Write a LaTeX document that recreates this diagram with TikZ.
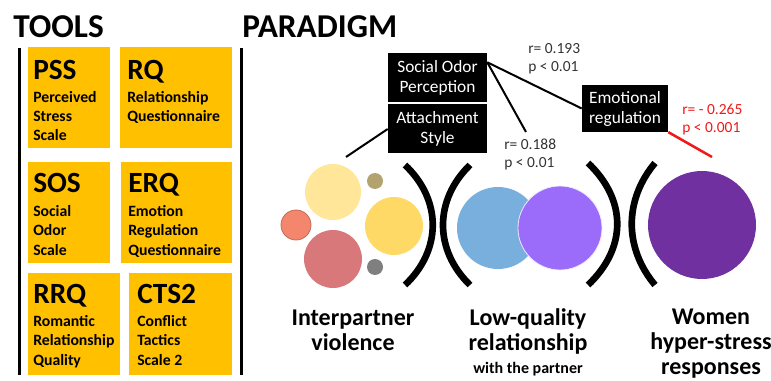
\documentclass[tikz,border=0pt]{standalone}
\usepackage{fontspec}
\setmainfont{Carlito}
\definecolor{toolorange}{HTML}{FFC000}
\definecolor{paleyellow}{HTML}{FFE699}
\definecolor{olive}{HTML}{B3A36F}
\definecolor{salmon}{HTML}{F4866D}
\definecolor{sunyellow}{HTML}{FFD966}
\definecolor{rose}{HTML}{D9787A}
\definecolor{greydot}{HTML}{7F7F7F}
\definecolor{skyblue}{HTML}{78AFDC}
\definecolor{lilac}{HTML}{9B6BFA}
\definecolor{deeppurple}{HTML}{7030A0}
\definecolor{statred}{HTML}{F01818}
\begin{document}
\begin{tikzpicture}[x=0.75pt,y=0.75pt,yscale=-1,xscale=1,
  head/.style={font=\fontsize{25}{29}\selectfont\bfseries, inner sep=0, anchor=base west},
  abbr/.style={font=\fontsize{22}{26}\selectfont\bfseries, inner sep=0, anchor=base west},
  desc/.style={font=\fontsize{11.8}{14.3}\selectfont\bfseries, inner sep=0, anchor=base west, align=left},
  blackbox/.style={fill=black, text=white, font=\fontsize{13}{15}\selectfont, align=center, inner sep=0, minimum height=36.75pt},
  stat/.style={font=\fontsize{11.6}{13.5}\selectfont, text=black!80, align=left, inner sep=0, anchor=base west},
  outcome/.style={font=\fontsize{18}{18.75}\selectfont\bfseries, align=center, inner sep=0, anchor=base},
  link/.style={line width=1.5pt},
  paren/.style={line width=5pt},
  rule/.style={line width=2.25pt}
]
\useasboundingbox (0,0) rectangle (771,381);

% tools
\draw (13,38) node (tools) [head] {TOOLS};
\draw [rule] (19,48) -- (19,375);
\fill [toolorange] (28,47) rectangle (110,148);
\fill [toolorange] (120,47) rectangle (232,148);
\fill [toolorange] (28,162) rectangle (110,263);
\fill [toolorange] (121,162) rectangle (232,263);
\fill [toolorange] (28,273) rectangle (120,375);
\fill [toolorange] (129,273) rectangle (232,375);

% (multi-line nodes sit on their last baseline)
\draw (33,80) node (pss) [abbr] {PSS};
\draw (33,141) node (pssd) [desc] {Perceived\\Stress\\Scale};
\draw (127,80) node (rq) [abbr] {RQ};
\draw (127,122) node (rqd) [desc] {Relationship\\Questionnaire};
\draw (33,193) node (sos) [abbr] {SOS};
\draw (33,255) node (sosd) [desc] {Social\\Odor\\Scale};
\draw (128,193) node (erq) [abbr] {ERQ};
\draw (128,255) node (erqd) [desc] {Emotion\\Regulation\\Questionnaire};
\draw (33,303) node (rrq) [abbr] {RRQ};
\draw (33,365) node (rrqd) [desc] {Romantic\\Relationship\\Quality};
\draw (137,303) node (cts) [abbr] {CTS2};
\draw (137,365) node (ctsd) [desc] {Conflict\\Tactics\\Scale 2};

% paradigm
\draw (242,38) node (paradigm) [head] {PARADIGM};
\draw [rule] (241,48) -- (241,375);

\draw (437.5,77.5) node (soc) [blackbox, minimum width=74.25pt] {Social Odor\\Perception};
\draw (437.5,129) node (att) [blackbox, minimum width=74.25pt] {Attachment\\Style};
\draw (625,108.5) node (emo) [blackbox, minimum width=64.5pt, minimum height=35pt] {Emotional\\regulation};

\coordinate (attend) at (346,157);
\coordinate (lowend) at (526,132);
\coordinate (womend) at (712,157);
\draw [link] (att.west) -- (attend);
\draw [link] (soc.17) -- (lowend);
\draw [link] (soc.17) -- (emo.west);
\draw [line width=1.9pt, statred] (emo.south east) -- (womend);

\draw (528,72) node (r1) [stat] {r= 0.193\\p < 0.01};
\draw (504,168) node (r2) [stat] {r= 0.188\\p < 0.01};
\draw (682,133) node (r3) [stat, text=statred] {r= - 0.265\\p < 0.001};

% interpartner violence
\fill [paleyellow] (333,192) circle [radius=28];
\fill [olive] (375,181) circle [radius=8];
\filldraw [fill=salmon, draw=salmon!80!black, line width=0.6pt] (296,225) circle [radius=15];
\fill [sunyellow] (394,226) circle [radius=29];
\fill [rose] (333,259) circle [radius=29];
\fill [greydot] (375,267) circle [radius=8];

% low-quality relationship
\fill [skyblue] (498,228) circle [radius=41];
\filldraw [fill=lilac, draw=white!85!lilac, line width=0.6pt] (560,228) circle [radius=42];

% women
\fill [deeppurple] (702,225) circle [radius=54];

% brackets
\draw [paren] (405,165) .. controls (442,200) and (442,250) .. (405,285);
\draw [paren] (470,165) .. controls (434,200) and (434,250) .. (470,285);
\draw [paren] (588,163) .. controls (627,200) and (627,248) .. (588,285);
\draw [paren] (655,163) .. controls (624,200) and (624,248) .. (655,285);

\draw (353,350) node (ipv) [outcome] {Interpartner\\violence};
\draw (528,373) node (lqr) [outcome] {Low-quality\\relationship\\[-2pt]{\fontsize{12}{14}\selectfont with the partner}};
\draw (711,374) node (whr) [outcome] {Women\\hyper-stress\\responses};

\end{tikzpicture}
\end{document}
